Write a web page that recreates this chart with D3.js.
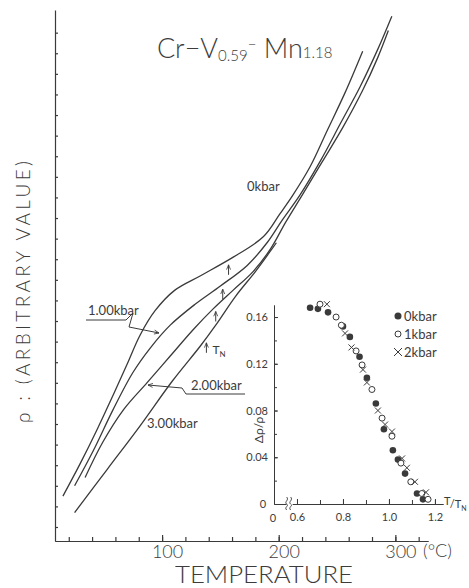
<!DOCTYPE html>
<html>
<head>
<meta charset="utf-8">
<script src="https://cdn.jsdelivr.net/npm/d3@7"></script>
<style>
  body { margin: 0; background: #fff; }
  text { font-family: Lato, "DejaVu Sans", sans-serif; fill: #3c3c3c; }
</style>
</head>
<body>
<script>
// resistivity curves, temperature (°C) vs rho (arbitrary)
const tempOk = [15, 30, 44, 58, 70, 81, 94, 111, 133, 161, 187, 201, 212, 227, 242, 257, 272];
const rhoOk  = [1.5, 3.1, 4.7, 6.4, 7.9, 9.3, 10.5, 11.5, 12.2, 13.1, 14.1, 15.2, 16.1, 17.5, 19.3, 21.1, 23.1];

const temp1k = [25, 41, 58, 75, 90, 107, 128, 150, 173, 190, 203, 218, 236, 253, 270, 285, 297];
const rho1k  = [2.0, 3.7, 5.7, 7.5, 8.7, 9.8, 10.8, 11.7, 12.7, 13.8, 14.9, 16.1, 17.8, 19.6, 21.4, 23.2, 24.8];

const temp2k = [34, 49, 67, 87, 107, 127, 144, 161, 178, 193, 206, 220, 237, 255, 272, 285, 294];
const rho2k  = [2.4, 4.1, 5.7, 7.0, 8.3, 9.6, 10.6, 11.5, 12.4, 13.5, 14.8, 16.1, 17.7, 19.4, 21.2, 22.8, 24.1];

const temp3k = [25, 53, 81, 109, 133, 146, 163, 180, 193, 198];
const rho3k  = [0.7, 2.8, 4.9, 7.1, 8.8, 9.8, 11.2, 12.4, 13.4, 13.8];

// Neel temperatures marked with arrows (0, 1, 2, 3 kbar)
const tempNeel = [157, 152, 146, 138];

// inset: delta rho / rho against T/TN
const ratio0 = [0.657, 0.691, 0.735, 0.80, 0.830, 0.872, 0.904, 0.943, 0.978, 1.017, 1.039, 1.070, 1.122, 1.148];
const drho0  = [0.168, 0.167, 0.164, 0.152, 0.143, 0.126, 0.108, 0.086, 0.064, 0.046, 0.038, 0.026, 0.009, 0.004];
const ratio1 = [0.700, 0.770, 0.793, 0.857, 0.883, 0.926, 0.970, 1.013, 1.052, 1.095, 1.143, 1.170];
const drho1  = [0.171, 0.160, 0.153, 0.131, 0.119, 0.098, 0.0735, 0.058, 0.035, 0.019, 0.009, 0.004];
const ratio2 = [0.730, 0.809, 0.837, 0.887, 0.904, 0.952, 0.983, 1.013, 1.057, 1.078, 1.113, 1.161];
const drho2  = [0.171, 0.146, 0.134, 0.115, 0.104, 0.080, 0.068, 0.062, 0.039, 0.031, 0.019, 0.010];

const xTicksMajor = [100, 200, 300];
const insetXLabels = ["0.6", "0.8", "1.0", "1.2"];
const insetYLabels = ["0.04", "0.08", "0.12", "0.16"];

const ink = "#3a3a3a";

const svg = d3.select("body").append("svg")
              .attr("width", 469)
              .attr("height", 588);

const defs = svg.append("defs");
defs.append("marker").attr("id", "head")
    .attr("viewBox", "-8 -5 10 10").attr("markerWidth", 8).attr("markerHeight", 8)
    .attr("orient", "auto").attr("markerUnits", "userSpaceOnUse")
    .append("path").attr("d", "M-6,-2.5L0,0L-6,2.5")
    .attr("fill", "none").attr("stroke", ink).attr("stroke-width", 1);

const x = d3.scaleLinear().domain([8.2, 328]).range([55, 428]);
const y = d3.scaleLinear().domain([-0.68, 25.1]).range([541, 10]);

// main axes
const gx = svg.append("g").attr("transform", "translate(0,541)");
gx.call(d3.axisBottom(x).tickValues(d3.range(20, 321, 20)).tickSize(-4).tickSizeOuter(0).tickFormat(""));
gx.append("g").call(d3.axisBottom(x).tickValues(xTicksMajor).tickSize(-6).tickSizeOuter(0).tickPadding(4));
gx.selectAll("text").attr("font-size", 18).attr("fill", ink).attr("dx", 5)
  .style("font-family", "Lato, sans-serif").style("font-weight", 300);
gx.selectAll("path, line").attr("stroke", ink).attr("stroke-width", 1.2);

const gy = svg.append("g").attr("transform", "translate(55,0)");
gy.call(d3.axisLeft(y).tickValues(d3.range(0, 25)).tickSize(-3).tickSizeOuter(0).tickFormat(""));
gy.selectAll("path, line").attr("stroke", ink).attr("stroke-width", 1.2);

svg.append("text").attr("x", 423).attr("y", 557).attr("font-size", 18).attr("font-weight", 300).text("(°C)");

svg.append("text").attr("x", 264).attr("y", 583)
   .attr("text-anchor", "middle").attr("font-size", 23)
   .attr("textLength", 178).attr("lengthAdjust", "spacingAndGlyphs")
   .attr("font-weight", 300)
   .text("TEMPERATURE");

svg.append("text")
   .attr("transform", "translate(30,292) rotate(-90)")
   .attr("text-anchor", "middle").attr("font-size", 19).attr("font-weight", 300)
   .attr("textLength", 262).attr("lengthAdjust", "spacing")
   .text("ρ : (ARBITRARY VALUE)");

// title
const title = svg.append("text").attr("x", 157).attr("y", 58).attr("font-size", 27).attr("font-weight", 300);
title.append("tspan").text("Cr−V");
title.append("tspan").attr("font-size", 15).attr("dy", 3).text("0.59");
title.append("tspan").attr("font-size", 15).attr("dy", -11).text("−");
title.append("tspan").attr("dy", 8).text(" Mn");
title.append("tspan").attr("font-size", 15).attr("dy", 0).text("1.18");

// curves
const line = d3.line().x(d => x(d[0])).y(d => y(d[1])).curve(d3.curveCatmullRom.alpha(0.5));
const curves = [[tempOk, rhoOk], [temp1k, rho1k], [temp2k, rho2k], [temp3k, rho3k]];
svg.append("g").selectAll("path")
   .data(curves)
   .enter().append("path")
   .attr("d", c => line(d3.zip(c[0], c[1])))
   .attr("fill", "none").attr("stroke", ink).attr("stroke-width", 1.3);

// Neel temperature arrows
const rhoAt = (ts, rs, t) => d3.scaleLinear().domain(ts).range(rs)(t);
tempNeel.forEach((t, i) => {
  const yy = y(rhoAt(curves[i][0], curves[i][1], t)) + 5;
  svg.append("line").attr("x1", x(t)).attr("x2", x(t))
     .attr("y1", yy + 10).attr("y2", yy)
     .attr("stroke", ink).attr("stroke-width", 1)
     .attr("marker-end", "url(#head)");
});
const tn = svg.append("text").attr("x", x(tempNeel[3]) + 6).attr("y", y(rhoAt(temp3k, rho3k, tempNeel[3])) + 16).attr("font-size", 12);
tn.append("tspan").text("T");
tn.append("tspan").attr("font-size", 8).attr("dy", 3).text("N");

// curve labels
svg.append("text").attr("x", 247).attr("y", 191).attr("font-size", 13).text("0kbar");
svg.append("text").attr("x", 88).attr("y", 315).attr("font-size", 13).text("1.00kbar");
svg.append("text").attr("x", 191).attr("y", 390).attr("font-size", 13).text("2.00kbar");
svg.append("text").attr("x", 147).attr("y", 428).attr("font-size", 13).text("3.00kbar");

svg.append("path").attr("d", "M86,320L126,320L133,313L129,327L159,333")
   .attr("fill", "none").attr("stroke", ink).attr("stroke-width", 1).attr("marker-end", "url(#head)");
svg.append("path").attr("d", "M245,394L186,394L182,388L148,385")
   .attr("fill", "none").attr("stroke", ink).attr("stroke-width", 1).attr("marker-end", "url(#head)");

// inset
const xi = d3.scaleLinear().domain([0.5, 1.235]).range([274, 443]);
const yi = d3.scaleLinear().domain([0, 0.1703]).range([504, 305]);

const gxi = svg.append("g").attr("transform", "translate(0,504)");
gxi.call(d3.axisBottom(xi).tickValues(d3.range(0.6, 1.21, 0.1)).tickSize(-4).tickSizeOuter(0).tickFormat(""));
gxi.append("g").call(d3.axisBottom(xi).tickValues([0.6, 0.8, 1.0, 1.2]).tickSize(-5).tickSizeOuter(0).tickPadding(9)
   .tickFormat((d, i) => insetXLabels[i]));
gxi.selectAll("text").attr("font-size", 11).attr("fill", ink).style("font-family", "Lato, sans-serif");
gxi.selectAll("path, line").attr("stroke", ink).attr("stroke-width", 1);

const gyi = svg.append("g").attr("transform", "translate(274,0)");
gyi.call(d3.axisLeft(yi).tickValues(d3.range(0.02, 0.161, 0.02)).tickSize(-3).tickSizeOuter(0).tickFormat(""));
gyi.append("g").call(d3.axisLeft(yi).tickValues([0.04, 0.08, 0.12, 0.16]).tickSize(-4).tickSizeOuter(0).tickPadding(6)
   .tickFormat((d, i) => insetYLabels[i]));
gyi.selectAll("text").attr("font-size", 11).attr("fill", ink).style("font-family", "Lato, sans-serif");
gyi.selectAll("path, line").attr("stroke", ink).attr("stroke-width", 1);

svg.append("text").attr("x", 263).attr("y", 508).attr("font-size", 11).attr("text-anchor", "middle").text("0");
svg.append("text").attr("x", 273).attr("y", 522).attr("font-size", 11).attr("text-anchor", "middle").text("0");

// axis break marks
svg.append("rect").attr("x", xi(0.555)).attr("y", 501).attr("width", 6).attr("height", 6).attr("fill", "#fff");
[0, 4].forEach(dx => {
  svg.append("path")
     .attr("d", `M${xi(0.555) + dx},510 c-3,-3 3,-4 0,-6 c-3,-2 3,-4 0,-7`)
     .attr("fill", "none").attr("stroke", ink).attr("stroke-width", 0.9);
});

const tt = svg.append("text").attr("x", 444).attr("y", 508).attr("font-size", 11);
tt.append("tspan").attr("dy", -3).text("T");
tt.append("tspan").attr("dy", 3).text("/T");
tt.append("tspan").attr("font-size", 7).attr("dy", 3).text("N");

svg.append("text")
   .attr("transform", "translate(263,430) rotate(-90)")
   .attr("text-anchor", "middle").attr("font-size", 12)
   .text("Δρ/ρ");

// inset points
const pts = svg.append("g");
pts.selectAll("circle.k0").data(d3.zip(ratio0, drho0)).enter().append("circle")
   .attr("cx", d => xi(d[0])).attr("cy", d => yi(d[1])).attr("r", 3.3).attr("fill", ink);
pts.selectAll("circle.k1").data(d3.zip(ratio1, drho1)).enter().append("circle")
   .attr("cx", d => xi(d[0])).attr("cy", d => yi(d[1])).attr("r", 3)
   .attr("fill", "#fff").attr("stroke", ink).attr("stroke-width", 1);
pts.selectAll("path.k2").data(d3.zip(ratio2, drho2)).enter().append("path")
   .attr("d", d => { const cx = xi(d[0]), cy = yi(d[1]);
     return `M${cx-3},${cy-3}L${cx+3},${cy+3}M${cx-3},${cy+3}L${cx+3},${cy-3}`; })
   .attr("stroke", ink).attr("stroke-width", 1);

// legend
const legendNames = ["0kbar", "1kbar", "2kbar"];
const lg = svg.append("g");
legendNames.forEach((name, i) => {
  const ly = 316 + i * 18;
  if (i === 0) lg.append("circle").attr("cx", 398).attr("cy", ly).attr("r", 3.5).attr("fill", ink);
  if (i === 1) lg.append("circle").attr("cx", 398).attr("cy", ly).attr("r", 3).attr("fill", "none").attr("stroke", ink);
  if (i === 2) lg.append("path").attr("d", `M394,${ly-4}L402,${ly+4}M394,${ly+4}L402,${ly-4}`).attr("stroke", ink);
  lg.append("text").attr("x", 404).attr("y", ly + 5).attr("font-size", 13).text(name);
});
</script>
</body>
</html>
